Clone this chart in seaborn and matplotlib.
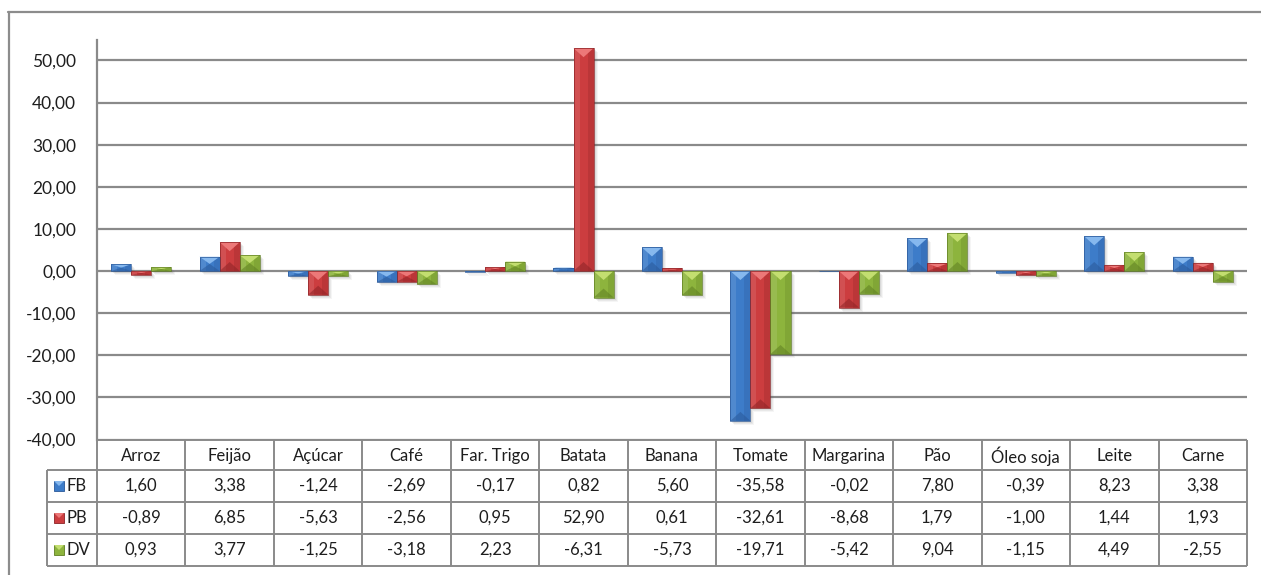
import numpy as np
import pandas as pd
import matplotlib
matplotlib.use("Agg")
import matplotlib.pyplot as plt
from matplotlib.patches import Polygon, Rectangle
from matplotlib.lines import Line2D
import seaborn as sns

# ---- data -------------------------------------------------------------
categories = ["Arroz", "Feijão", "Açúcar", "Café", "Far. Trigo", "Batata",
              "Banana", "Tomate", "Margarina", "Pão", "Óleo soja", "Leite", "Carne"]
series_names = ["FB", "PB", "DV"]
fb = [1.60, 3.38, -1.24, -2.69, -0.17, 0.82, 5.60, -35.58, -0.02, 7.80, -0.39, 8.23, 3.38]
pb = [-0.89, 6.85, -5.63, -2.56, 0.95, 52.90, 0.61, -32.61, -8.68, 1.79, -1.00, 1.44, 1.93]
dv = [0.93, 3.77, -1.25, -3.18, 2.23, -6.31, -5.73, -19.71, -5.42, 9.04, -1.15, 4.49, -2.55]
y_ticks = [-40, -30, -20, -10, 0, 10, 20, 30, 40, 50]

# ---- styling ----------------------------------------------------------
base = {"FB": "#3d7cc9", "PB": "#cc3d3f", "DV": "#8db43d"}
light = {"FB": "#86b8ee", "PB": "#ec7878", "DV": "#c3de70"}
dark = {"FB": "#2a5898", "PB": "#8c2326", "DV": "#5f7e22"}
grid_col = "#8a8a8a"
text_col = "#1e1e1e"

sns.set_theme(style="white")
plt.rcParams["font.family"] = ["Lato", "DejaVu Sans"]

def fmt(v):
    return f"{v:.2f}".replace(".", ",")

W, H = 1261, 575
fig = plt.figure(figsize=(W / 100, H / 100), dpi=100)
fig.patch.set_facecolor("white")

# chart area
ax_left, ax_right, ax_top, ax_bot = 97, 1247, 40, 439.5
ax = fig.add_axes([ax_left / W, 1 - ax_bot / H, (ax_right - ax_left) / W, (ax_bot - ax_top) / H])

df = pd.DataFrame({
    "categoria": categories * 3,
    "serie": sum([[s] * len(categories) for s in series_names], []),
    "valor": fb + pb + dv,
})
sns.barplot(data=df, x="categoria", y="valor", hue="serie", order=categories,
            hue_order=series_names, palette=base, saturation=1, width=0.68,
            dodge=True, legend=False, ax=ax, zorder=3, linewidth=0)

ax.set_xlim(-0.5, len(categories) - 0.5)
ax.set_ylim(-40, 54.84)
ax.set_yticks(y_ticks)
ax.set_yticklabels([fmt(v) for v in y_ticks], fontsize=12.5, color=text_col)
ax.tick_params(axis="y", length=0, pad=15)
ax.tick_params(axis="x", bottom=False, labelbottom=False)
ax.set_xlabel("")
ax.set_ylabel("")
ax.yaxis.grid(True, color=grid_col, lw=1.6, zorder=1)
ax.set_axisbelow(True)
for side in ["top", "right", "bottom"]:
    ax.spines[side].set_visible(False)
ax.spines["left"].set_color(grid_col)
ax.spines["left"].set_linewidth(1.6)
ax.patch.set_alpha(0)

# bevel shading + soft shadow, derived from each bar's geometry
inv = ax.transData.inverted()
for cont, name in zip(ax.containers, series_names):
    for p in cont.patches:
        x0, y0 = p.get_x(), p.get_y()
        x1, y1 = x0 + p.get_width(), y0 + p.get_height()
        (dx0, dy0), (dx1, dy1) = ax.transData.transform([(x0, y0), (x1, y1)])
        xl, xr = min(dx0, dx1), max(dx0, dx1)
        yb, yt = min(dy0, dy1), max(dy0, dy1)
        w, h = xr - xl, yt - yb
        d = min(w * 0.45, h / 2)
        xc = (xl + xr) / 2
        # shadow
        for k, a in [(4, 0.06), (3, 0.08), (2, 0.10)]:
            sh = inv.transform([(xl + k, yb - k), (xr + k, yt - k)])
            ax.add_patch(Rectangle(sh[0], sh[1][0] - sh[0][0], sh[1][1] - sh[0][1],
                                   facecolor="#555555", alpha=a, lw=0, zorder=2))
        # horizontal shading: lighter left, darker right
        ls = inv.transform([(xl, yb), (xl + w * 0.3, yb), (xl + w * 0.3, yt), (xl, yt)])
        ax.add_patch(Polygon(ls, closed=True, facecolor="white", alpha=0.10, lw=0, zorder=4))
        rs = inv.transform([(xr - w * 0.3, yb), (xr, yb), (xr, yt), (xr - w * 0.3, yt)])
        ax.add_patch(Polygon(rs, closed=True, facecolor=dark[name], alpha=0.25, lw=0, zorder=4))
        if d > 0.3:
            top = inv.transform([(xl, yt), (xr, yt), (xc, yt - d)])
            bot = inv.transform([(xl, yb), (xr, yb), (xc, yb + d)])
            ax.add_patch(Polygon(top, closed=True, facecolor=light[name], lw=0, zorder=5))
            ax.add_patch(Polygon(bot, closed=True, facecolor=dark[name], alpha=0.55, lw=0, zorder=5))
        ol = inv.transform([(xl, yb), (xr, yt)])
        ax.add_patch(Rectangle(ol[0], ol[1][0] - ol[0][0], ol[1][1] - ol[0][1],
                               facecolor="none", edgecolor=dark[name], lw=0.5, zorder=6))

# ---- data table under the chart ----------------------------------------
tab = fig.add_axes([0, 0, 1, 1])
tab.set_xlim(0, W)
tab.set_ylim(H, 0)
tab.axis("off")
tab.patch.set_alpha(0)

col_edges = [ax.transData.transform((i - 0.5, 0))[0] for i in range(len(categories) + 1)]
key_left = 47
row_edges = [440, 470, 502, 534, 566]
line_kw = dict(color=grid_col, lw=1.4, solid_capstyle="butt")

# horizontal rules
tab.add_line(Line2D([col_edges[0], col_edges[-1]], [row_edges[0]] * 2, **line_kw))
for ry in row_edges[1:]:
    tab.add_line(Line2D([key_left, col_edges[-1]], [ry] * 2, **line_kw))
# vertical rules
for cx in col_edges:
    tab.add_line(Line2D([cx, cx], [row_edges[0], row_edges[-1]], **line_kw))
tab.add_line(Line2D([key_left, key_left], [row_edges[1], row_edges[-1]], **line_kw))

# header
for i, c in enumerate(categories):
    cx = (col_edges[i] + col_edges[i + 1]) / 2
    tab.text(cx, (row_edges[0] + row_edges[1]) / 2 + 1, c, ha="center", va="center",
             fontsize=12, color=text_col)

# value rows with legend keys
for r, (name, vals) in enumerate(zip(series_names, [fb, pb, dv])):
    cy = (row_edges[r + 1] + row_edges[r + 2]) / 2
    ks = 10
    kx = 54
    tab.add_patch(Rectangle((kx, cy - ks / 2), ks, ks, facecolor=base[name],
                            edgecolor=dark[name], lw=0.6))
    tab.add_patch(Polygon([(kx, cy - ks / 2), (kx + ks, cy - ks / 2), (kx + ks / 2, cy)],
                          closed=True, facecolor=light[name], lw=0))
    tab.text(kx + ks + 3, cy, name, ha="left", va="center", fontsize=12, color=text_col)
    for i, v in enumerate(vals):
        cx = (col_edges[i] + col_edges[i + 1]) / 2
        tab.text(cx, cy, fmt(v), ha="center", va="center", fontsize=12, color=text_col)

# outer chart frame
frame_kw = dict(color="#8c8c8c", lw=1.6)
tab.add_line(Line2D([8, W + 5], [12, 12], **frame_kw))
tab.add_line(Line2D([9, 9], [12, H + 5], **frame_kw))

fig.savefig("out.png", dpi=100, facecolor="white")
